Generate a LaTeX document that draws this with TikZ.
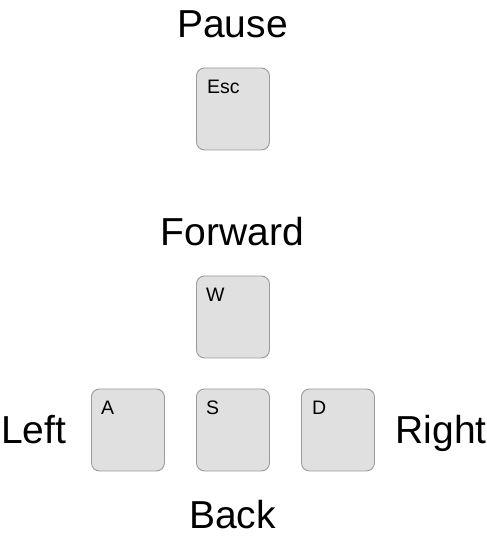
\documentclass[tikz,border=0pt]{standalone}
\usepackage{fontspec}
\setmainfont{Liberation Sans}
\definecolor{keyfill}{HTML}{E0E0E0}
\definecolor{keyline}{HTML}{9A9A9A}
\begin{document}
\begin{tikzpicture}[x=1pt,y=-1pt,
  keycap/.style={draw=keyline,fill=keyfill,line width=0.9pt,rounded corners=8pt,
    minimum width=73pt,minimum height=82pt,inner sep=0pt,anchor=north west},
  keylabel/.style={anchor=base west,inner sep=0pt,font=\fontsize{19.5}{22}\selectfont},
  action/.style={inner sep=0pt,font=\fontsize{39}{45}\selectfont}]
\useasboundingbox (0,0) rectangle (487,538);
% key caps
\node[keycap] (esc) at (196,67.5) {};
\node[keycap] (w) at (196,275.5) {};
\node[keycap] (a) at (91,388.5) {};
\node[keycap] (s) at (196,388.5) {};
\node[keycap] (d) at (301,388.5) {};
% letters printed on the caps
\node[keylabel] (esct) at (207,93) {Esc};
\node[keylabel] (wt) at (206,301) {W};
\node[keylabel] (at) at (101,414) {A};
\node[keylabel] (st) at (206,414) {S};
\node[keylabel] (dt) at (312,414) {D};
% action names around the caps
\node[action,anchor=base] (pause) at (232.5,37) {Pause};
\node[action,anchor=base] (forward) at (232.5,245) {Forward};
\node[action,anchor=base west] (left) at (1,443) {Left};
\node[action,anchor=base east] (right) at (487,443) {Right};
\node[action,anchor=base] (back) at (232.5,528) {Back};
\end{tikzpicture}
\end{document}
